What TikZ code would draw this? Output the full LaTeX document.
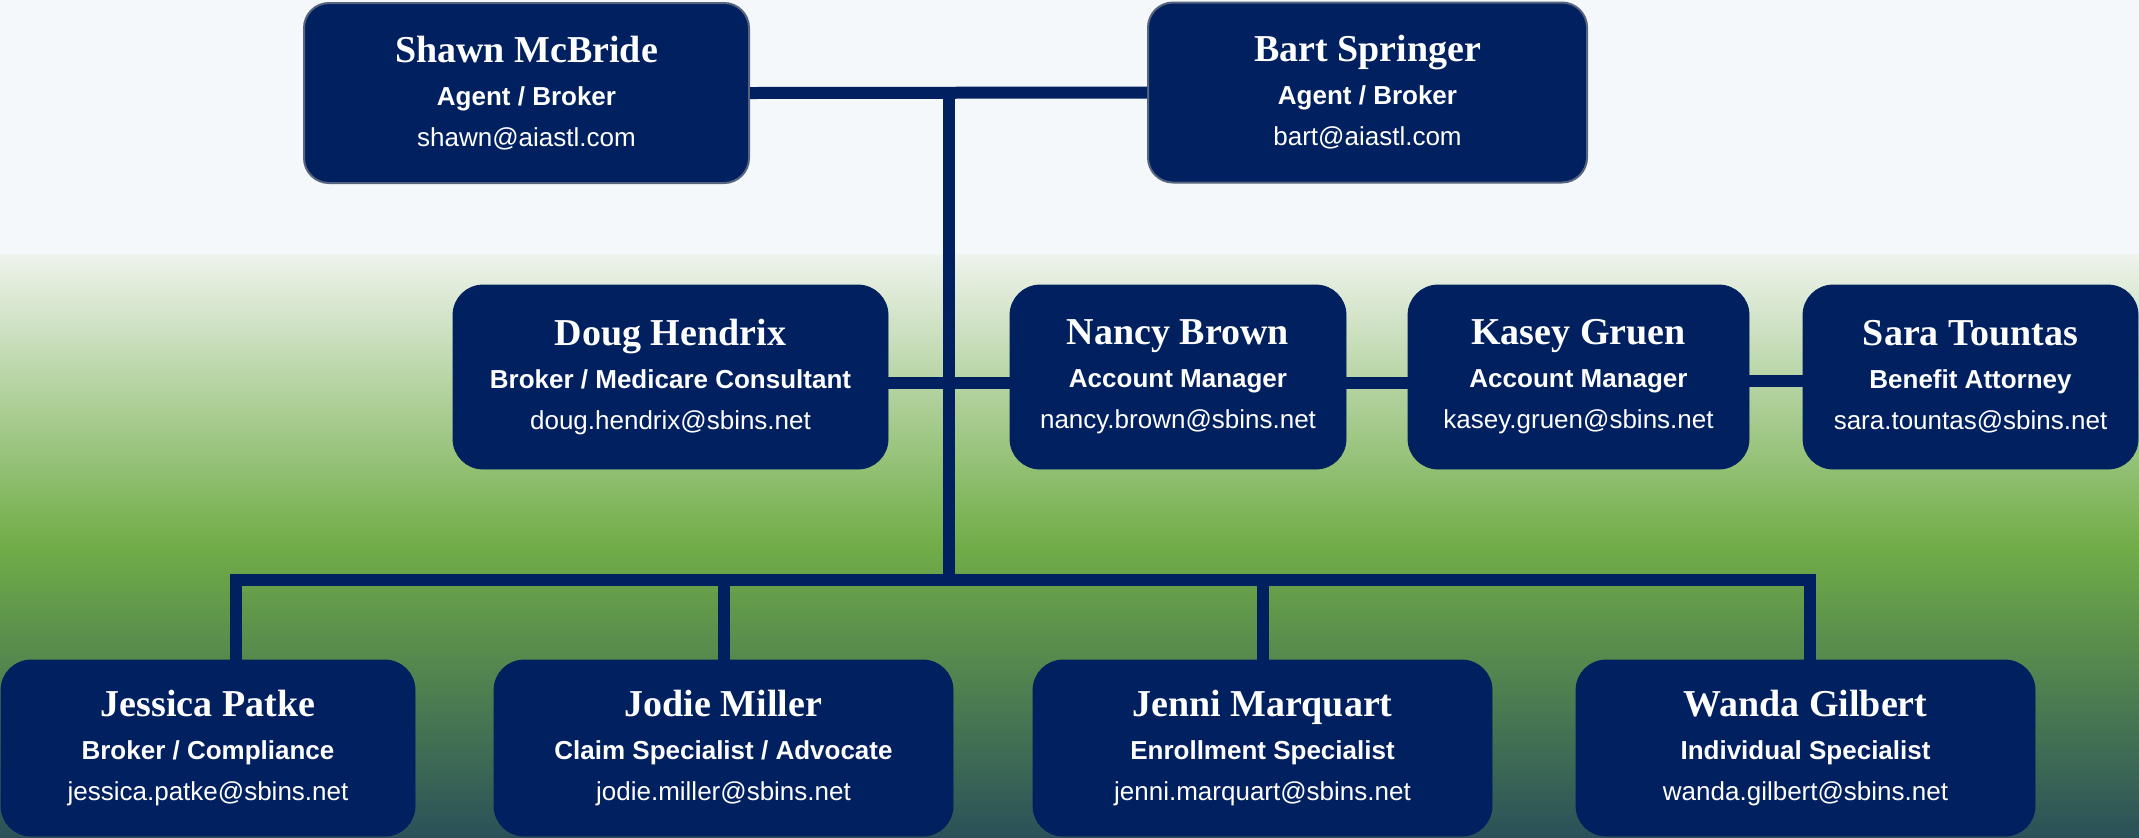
\documentclass[tikz,border=0pt]{standalone}
\usepackage{fontspec}
\setmainfont{Liberation Serif}
\newfontfamily\cardsans{Liberation Sans}
\usepackage{tikz}
\usetikzlibrary{calc}

\definecolor{navy}{HTML}{002060}
\definecolor{cardedge}{HTML}{56647E}
\definecolor{bgtop}{HTML}{F4F8FB}
\definecolor{bgpale}{HTML}{EEF3EC}
\definecolor{bggreen}{HTML}{70AD47}
\definecolor{bgdeep}{HTML}{2A5159}

\newcommand{\namefont}{\rmfamily\bfseries\fontsize{19}{21}\selectfont}
\newcommand{\rolefont}{\cardsans\bfseries}
\newcommand{\mailfont}{\cardsans}
\newcommand{\card}[3]{{\namefont #1}\\[1pt]{\rolefont #2}\\{\mailfont #3}}

\tikzset{
  card/.style={rectangle, rounded corners=15pt, fill=navy, draw=navy, text=white,
    align=center, inner sep=0pt, minimum height=92pt,
    font=\fontsize{13}{20.5}\selectfont},
  topcard/.style={card, rounded corners=12.5pt, draw=cardedge, line width=1pt,
    minimum height=90pt},
  lowcard/.style={card, minimum height=88pt},
  link/.style={draw=navy, line width=6pt}
}

\begin{document}
\begin{tikzpicture}[x=0.5pt, y=-0.5pt]

% Background
\useasboundingbox (0,0) rectangle (2139,837);
\fill[bgtop] (0,0) rectangle (2139,255);
\shade[top color=bgpale, bottom color=bggreen] (0,254) rectangle (2139,546);
\shade[top color=bggreen, bottom color=bgdeep] (0,545) rectangle (2139,837);

% Owners
\node[topcard, minimum width=222.5pt] (shawn) at (526.5,93)
  {\card{Shawn McBride}{Agent / Broker}{shawn@aiastl.com}};
\node[topcard, minimum width=219.5pt] (bart) at (1367.5,92.5)
  {\card{Bart Springer}{Agent / Broker}{bart@aiastl.com}};

% Middle row
\node[card, minimum width=217.5pt] (doug) at (670.5,377)
  {\card{Doug Hendrix}{Broker / Medicare Consultant}{doug.hendrix@sbins.net}};
\node[card, minimum width=168pt] (nancy) at (1178,377)
  {\card{Nancy Brown}{Account Manager}{nancy.brown@sbins.net}};
\node[card, minimum width=170.5pt] (kasey) at (1578.5,377)
  {\card{Kasey Gruen}{Account Manager}{kasey.gruen@sbins.net}};
\node[card, minimum width=167.5pt] (sara) at (1970.5,377)
  {\card{Sara Tountas}{Benefit Attorney}{sara.tountas@sbins.net}};

% Bottom row
\node[lowcard, minimum width=207pt] (jessica) at (208,748)
  {\card{Jessica Patke}{Broker / Compliance}{jessica.patke@sbins.net}};
\node[lowcard, minimum width=229.5pt] (jodie) at (723.5,748)
  {\card{Jodie Miller}{Claim Specialist / Advocate}{jodie.miller@sbins.net}};
\node[lowcard, minimum width=229.5pt] (jenni) at (1262.5,748)
  {\card{Jenni Marquart}{Enrollment Specialist}{jenni.marquart@sbins.net}};
\node[lowcard, minimum width=229.5pt] (wanda) at (1805.5,748)
  {\card{Wanda Gilbert}{Individual Specialist}{wanda.gilbert@sbins.net}};

% Connecting owners and trunk
\coordinate (trunk) at (949,93);
\coordinate (bus) at (949,580);
\draw[link] (shawn.east) -- (bart.west);
\draw[link] (trunk) -- (bus);

% Connecting middle row
\draw[link] ([yshift=-3pt]doug.east) -- ([yshift=-3pt]nancy.west);
\draw[link] ([yshift=-3pt]nancy.east) -- ([yshift=-3pt]kasey.west);
\draw[link] ([yshift=-2pt]kasey.east) -- ([yshift=-2pt]sara.west);

% Drawing bus and drops
\coordinate (busL) at (236,580);
\coordinate (busR) at (1810,580);
\draw[link] (jessica.north -| busL) -- (busL) -- (busR) -- (wanda.north -| busR);
\draw[link] (jodie.north |- busL) -- (jodie.north);
\draw[link] (jenni.north |- busL) -- (jenni.north);

\end{tikzpicture}
\end{document}
